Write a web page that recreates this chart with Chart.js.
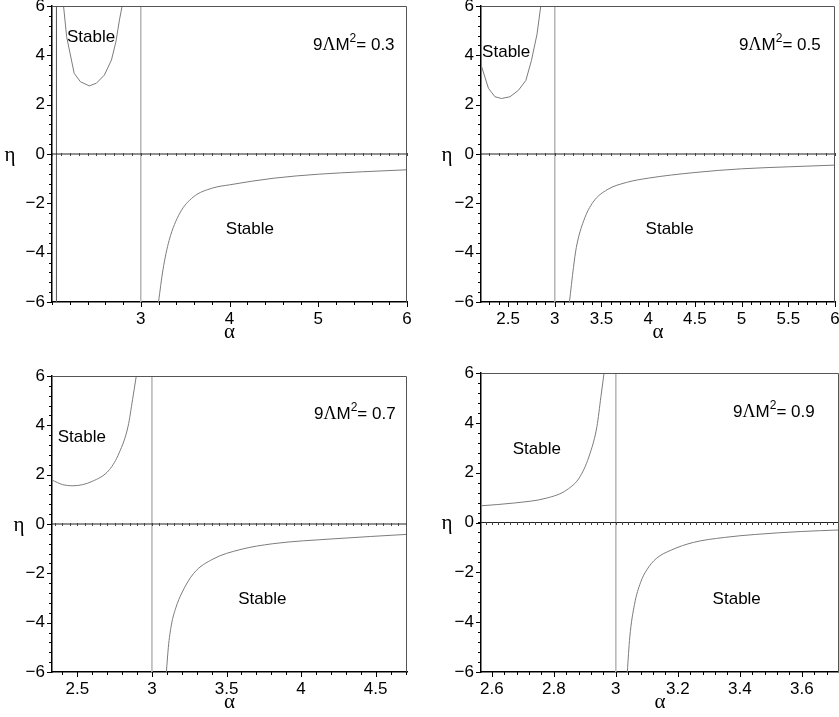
<!DOCTYPE html>
<html>
<head>
<meta charset="utf-8">
<script src="https://cdn.jsdelivr.net/npm/chart.js@4"></script>
<style>
  html, body { margin: 0; padding: 0; background: #fff; }
  body { width: 839px; height: 717px; position: relative; overflow: hidden; }
  canvas { position: absolute; }
</style>
</head>
<body>
<canvas id="c1" width="420" height="340" style="left:0;top:0"></canvas>
<canvas id="c2" width="419" height="340" style="left:420px;top:0"></canvas>
<canvas id="c3" width="420" height="377" style="left:0;top:340px"></canvas>
<canvas id="c4" width="419" height="377" style="left:420px;top:340px"></canvas>
<script>
// shared y ticks
const yTicks = [-6, -4, -2, 0, 2, 4, 6];
const asymptote = 3;

// panel 1: 9ΛM^2 = 0.3
const p1XTicks = [3, 4, 5, 6];
const p1UpperA = [2.13, 2.165, 2.25, 2.32, 2.42, 2.50, 2.59, 2.67, 2.72, 2.76, 2.79];
const p1UpperE = [6, 4.75, 3.27, 2.93, 2.76, 2.87, 3.2, 3.81, 4.55, 5.43, 6];
const p1LowerA = [3.2, 3.25, 3.32, 3.44, 3.59, 3.81, 4.0, 4.5, 5.0, 5.5, 6.0];
const p1LowerE = [-6, -4.7, -3.5, -2.4, -1.75, -1.38, -1.25, -0.98, -0.82, -0.72, -0.64];
const p1EdgeA = 2.05;

// panel 2: 9ΛM^2 = 0.5
const p2XTicks = [2.5, 3, 3.5, 4, 4.5, 5, 5.5, 6];
const p2UpperA = [2.2, 2.29, 2.36, 2.43, 2.52, 2.61, 2.69, 2.75, 2.81, 2.85];
const p2UpperE = [3.74, 2.66, 2.32, 2.25, 2.32, 2.58, 2.98, 3.79, 4.86, 6];
const p2LowerA = [3.157, 3.2, 3.23, 3.31, 3.41, 3.56, 3.77, 4.0, 4.5, 5.0, 5.5, 6.0];
const p2LowerE = [-6, -4.6, -3.8, -2.7, -1.95, -1.45, -1.15, -0.98, -0.75, -0.6, -0.52, -0.45];

// panel 3: 9ΛM^2 = 0.7
const p3XTicks = [2.5, 3, 3.5, 4, 4.5];
const p3UpperA = [2.33, 2.40, 2.47, 2.60, 2.715, 2.78, 2.84, 2.87, 2.895];
const p3UpperE = [1.78, 1.6, 1.55, 1.73, 2.2, 2.88, 3.96, 5.04, 6];
const p3LowerA = [3.097, 3.11, 3.13, 3.16, 3.2, 3.28, 3.41, 3.59, 3.81, 4.22, 4.71];
const p3LowerE = [-6, -5.0, -4.1, -3.4, -2.8, -2.0, -1.42, -1.04, -0.8, -0.6, -0.42];

// panel 4: 9ΛM^2 = 0.9
const p4XTicks = [2.6, 2.8, 3, 3.2, 3.4, 3.6];
const p4UpperA = [2.565, 2.67, 2.777, 2.842, 2.885, 2.917, 2.939, 2.952, 2.962];
const p4UpperE = [0.67, 0.78, 0.98, 1.31, 1.85, 2.78, 3.85, 5.06, 6];
const p4LowerA = [3.037, 3.045, 3.06, 3.08, 3.10, 3.13, 3.18, 3.25, 3.35, 3.45, 3.6, 3.72];
const p4LowerE = [-6, -4.6, -3.3, -2.4, -1.9, -1.45, -1.1, -0.8, -0.6, -0.48, -0.36, -0.3];

const SANS = '"Liberation Sans", Arial, Helvetica, sans-serif';
const SERIF = '"Liberation Serif", "DejaVu Serif", serif';

function pts(xs, ys) {
  return xs.map((x, i) => ({x: x, y: ys[i]}));
}

function fmt(v) {
  return v < 0 ? '\u2212' + Math.abs(v) : String(v);
}

// ticks, frame, texts
const decor = {
  id: 'decor',
  afterDraw(chart) {
    const p = chart.options.plugins.decor;
    const ctx = chart.ctx;
    const a = chart.chartArea;
    const sx = chart.scales.x, sy = chart.scales.y;
    ctx.save();

    // top / right frame
    ctx.strokeStyle = '#555';
    ctx.lineWidth = 1;
    ctx.beginPath();
    ctx.moveTo(a.left, a.top + 0.5);
    ctx.lineTo(a.right - 0.5, a.top + 0.5);
    ctx.lineTo(a.right - 0.5, a.bottom);
    ctx.stroke();

    ctx.strokeStyle = '#000';
    ctx.beginPath();
    // x minor + major ticks
    for (let v = Math.ceil(sx.min / p.xMinor - 1e-6) * p.xMinor; v <= sx.max + 1e-9; v += p.xMinor) {
      const px = Math.round(sx.getPixelForValue(v)) + 0.5;
      ctx.moveTo(px, a.bottom);
      ctx.lineTo(px, a.bottom + 3);
    }
    p.xTicks.forEach(v => {
      const px = Math.round(sx.getPixelForValue(v)) + 0.5;
      ctx.moveTo(px, a.bottom);
      ctx.lineTo(px, a.bottom + 5);
    });
    // y minor + major ticks
    for (let v = -6; v <= 6.0001; v += 0.4) {
      const py = Math.round(sy.getPixelForValue(v)) + 0.5;
      ctx.moveTo(a.left, py);
      ctx.lineTo(a.left - 3, py);
    }
    yTicks.forEach(v => {
      const py = Math.round(sy.getPixelForValue(v)) + 0.5;
      ctx.moveTo(a.left, py);
      ctx.lineTo(a.left - 5, py);
    });
    ctx.stroke();

    // little ticks along eta = 0
    const y0 = Math.round(sy.getPixelForValue(0)) + 0.5;
    ctx.strokeStyle = '#444';
    ctx.beginPath();
    for (let v = Math.ceil(sx.min / p.zeroStep) * p.zeroStep; v <= sx.max; v += p.zeroStep) {
      const px = Math.round(sx.getPixelForValue(v)) + 0.5;
      ctx.moveTo(px, y0 - 1.5);
      ctx.lineTo(px, y0 + 1.5);
    }
    ctx.stroke();

    // region labels
    ctx.fillStyle = '#000';
    ctx.textBaseline = 'middle';
    ctx.textAlign = 'center';
    ctx.font = '17px ' + SANS;
    p.stable.forEach(s => {
      ctx.fillText('Stable', sx.getPixelForValue(s[0]), sy.getPixelForValue(s[1]));
    });

    // 9ΛM² = value
    const parts = [
      ['9', '17px ' + SANS, 0],
      ['\u039B', '18px ' + SERIF, 0],
      ['M', '17px ' + SANS, 0],
      ['2', '12px ' + SANS, -7],
      ['= ' + p.value, '17px ' + SANS, 0]
    ];
    let total = 0;
    parts.forEach(q => { ctx.font = q[1]; total += ctx.measureText(q[0]).width; });
    let tx = sx.getPixelForValue(p.annot[0]) - total / 2;
    const ty = sy.getPixelForValue(p.annot[1]);
    ctx.textAlign = 'left';
    parts.forEach(q => {
      ctx.font = q[1];
      ctx.fillText(q[0], tx, ty + q[2]);
      tx += ctx.measureText(q[0]).width;
    });

    // axis symbols
    ctx.textAlign = 'center';
    ctx.font = '21px ' + SERIF;
    ctx.fillText('\u03B7', p.etaX, sy.getPixelForValue(0) + 1);
    ctx.fillText('\u03B1', (a.left + a.right) / 2, a.bottom + 30);
    ctx.restore();
  }
};

function makePanel(id, p) {
  const curve = {borderColor: '#7c7c7c', borderWidth: 1, showLine: true, pointRadius: 0};
  const datasets = [
    {data: [{x: p.xMin, y: 0}, {x: p.xMax, y: 0}], borderColor: '#222', borderWidth: 1, showLine: true, pointRadius: 0},
    {data: [{x: asymptote, y: -6}, {x: asymptote, y: 6}], borderColor: '#b5b5b5', borderWidth: 1.5, showLine: true, pointRadius: 0}
  ];
  if (p.edge !== undefined) {
    datasets.push({data: [{x: p.edge, y: -6}, {x: p.edge, y: 6}], borderColor: '#555', borderWidth: 1, showLine: true, pointRadius: 0});
  }
  datasets.push(Object.assign({data: p.upper, cubicInterpolationMode: p.smoothUpper ? 'monotone' : 'default'}, curve));
  datasets.push(Object.assign({data: p.lower, cubicInterpolationMode: 'monotone'}, curve));

  const tickFont = {family: SANS, size: 17};
  new Chart(document.getElementById(id), {
    type: 'scatter',
    data: {datasets: datasets},
    options: {
      responsive: false,
      animation: false,
      events: [],
      layout: {padding: {top: p.padTop, right: p.padRight, left: 0, bottom: 0}},
      plugins: {
        legend: {display: false},
        tooltip: {enabled: false},
        decor: p
      },
      scales: {
        x: {
          type: 'linear',
          min: p.xMin,
          max: p.xMax,
          afterBuildTicks: s => { s.ticks = p.xTicks.map(v => ({value: v})); },
          afterFit: s => { s.height = p.xAxisH; s.paddingLeft = 0; s.paddingRight = 0; },
          grid: {display: false, drawTicks: true, tickLength: 5},
          border: {display: true, color: '#000', width: 1.5},
          ticks: {font: tickFont, color: '#000', padding: 2, maxRotation: 0, autoSkip: false, callback: fmt}
        },
        y: {
          type: 'linear',
          min: -6,
          max: 6,
          afterBuildTicks: s => { s.ticks = yTicks.map(v => ({value: v})); },
          afterFit: s => { s.width = p.yAxisW; s.paddingTop = 0; s.paddingBottom = 0; },
          grid: {display: false, drawTicks: true, tickLength: 5},
          border: {display: true, color: '#000', width: 1.5},
          ticks: {font: tickFont, color: '#000', padding: 2, autoSkip: false, callback: fmt}
        }
      }
    },
    plugins: [decor]
  });
}

makePanel('c1', {
  xMin: 2.0, xMax: 6, xTicks: p1XTicks, xMinor: 0.2, zeroStep: 0.1,
  upper: pts(p1UpperA, p1UpperE), lower: pts(p1LowerA, p1LowerE), edge: p1EdgeA, smoothUpper: false,
  padTop: 6, padRight: 13, yAxisW: 52, xAxisH: 38,
  stable: [[2.44, 4.73], [4.23, -3.06]], annot: [5.40, 4.4], value: '0.3', etaX: 10
});
makePanel('c2', {
  xMin: 2.21, xMax: 6, xTicks: p2XTicks, xMinor: 0.1, zeroStep: 0.1,
  upper: pts(p2UpperA, p2UpperE), lower: pts(p2LowerA, p2LowerE), smoothUpper: false,
  padTop: 6, padRight: 4, yAxisW: 61, xAxisH: 38,
  stable: [[2.48, 4.14], [4.23, -3.07]], annot: [5.41, 4.4], value: '0.5', etaX: 27
});
makePanel('c3', {
  xMin: 2.33, xMax: 4.71, xTicks: p3XTicks, xMinor: 0.1, zeroStep: 0.05,
  upper: pts(p3UpperA, p3UpperE), lower: pts(p3LowerA, p3LowerE), smoothUpper: true,
  padTop: 36, padRight: 13, yAxisW: 52, xAxisH: 45,
  stable: [[2.53, 3.53], [3.74, -3.07]], annot: [4.36, 4.43], value: '0.7', etaX: 19
});
makePanel('c4', {
  xMin: 2.565, xMax: 3.72, xTicks: p4XTicks, xMinor: 0.04, zeroStep: 0.02,
  upper: pts(p4UpperA, p4UpperE), lower: pts(p4LowerA, p4LowerE), smoothUpper: true,
  padTop: 33, padRight: 0, yAxisW: 61, xAxisH: 45,
  stable: [[2.745, 2.95], [3.39, -3.07]], annot: [3.51, 4.42], value: '0.9', etaX: 27
});
</script>
</body>
</html>
